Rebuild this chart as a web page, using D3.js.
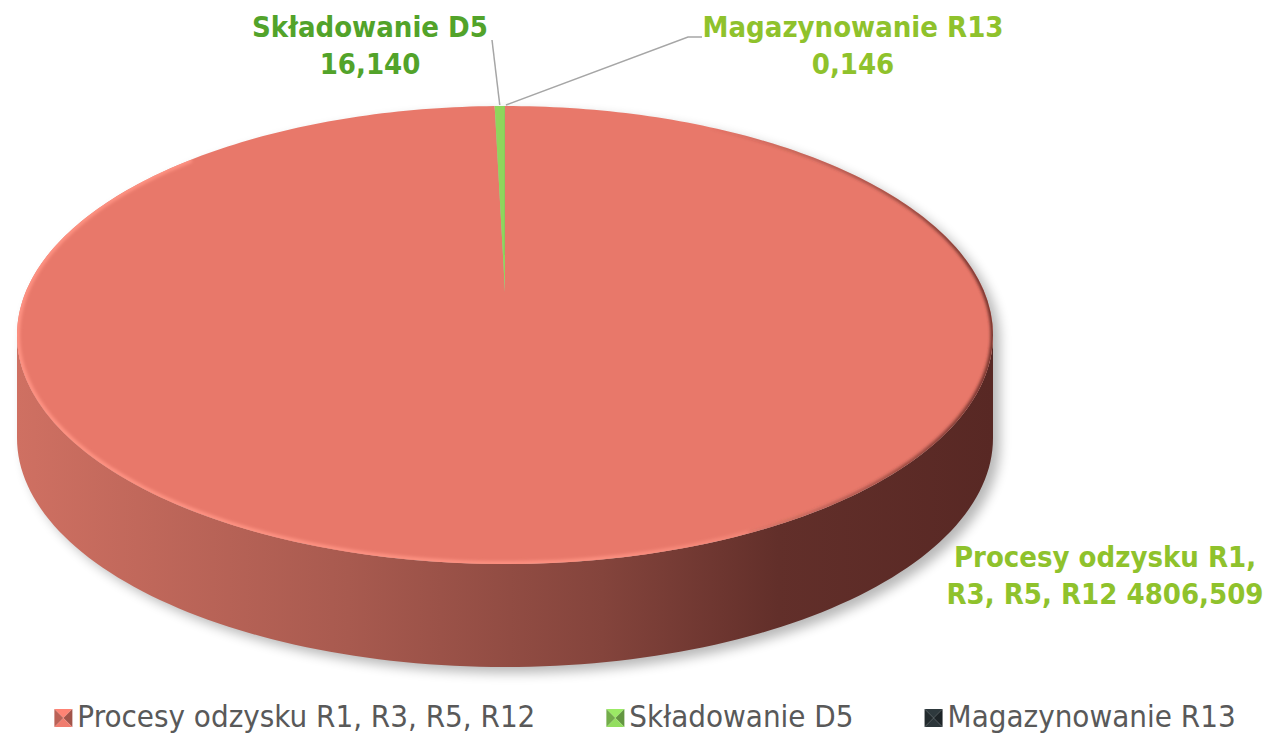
<!DOCTYPE html>
<html>
<head>
<meta charset="utf-8">
<script src="https://cdn.jsdelivr.net/npm/d3@7"></script>
<style>
  html, body { margin: 0; padding: 0; background: #fff; }
  svg { display: block; }
</style>
</head>
<body>
<div id="chart"></div>
<script>
// dane
const categories = ["Procesy odzysku R1, R3, R5, R12", "Składowanie D5", "Magazynowanie R13"];
const values = [4806.509, 16.140, 0.146];
const valueLabels = ["4806,509", "16,140", "0,146"];
const topColors = ["#e8786a", "#8ed65c", "#2a3438"];
const labelColors = ["#8fc22c", "#52a32a", "#8fc22c"];

const W = 1276, H = 733;
const cx = 505, cy = 335, rx = 488, ry = 229, depth = 103;
const apexY = 292; // perspektywa: srodek tortu lezy wyzej niz srodek elipsy

const svg = d3.select("#chart").append("svg")
  .attr("width", W).attr("height", H);
const defs = svg.append("defs");

// punkt na obwodzie (kat jak w d3.pie: 0 = gora, zgodnie z zegarem)
const rim = (a, dy = 0) => [cx + rx * Math.sin(a), cy - ry * Math.cos(a) + dy];
const arcPts = (a0, a1, dy = 0, n = 120) =>
  d3.range(n + 1).map(i => rim(a0 + (a1 - a0) * i / n, dy));
const line = d3.line();

const pie = d3.pie().sort(null).value(d => d)(values);

// gradienty i filtry
const sideGrad = defs.append("linearGradient").attr("id", "sideGrad")
  .attr("gradientUnits", "userSpaceOnUse")
  .attr("x1", cx - rx).attr("x2", cx + rx).attr("y1", 0).attr("y2", 0);
[[0, "#cf7062"], [0.34, "#a85a4f"], [0.6, "#84443c"], [0.78, "#622f2a"], [1, "#582824"]]
  .forEach(([o, c]) => sideGrad.append("stop").attr("offset", o).attr("stop-color", c));

const hiGrad = defs.append("linearGradient").attr("id", "hiGrad")
  .attr("gradientUnits", "userSpaceOnUse")
  .attr("x1", cx - rx).attr("x2", cx + rx).attr("y1", 0).attr("y2", 0);
[[0, 0.95], [0.6, 0.85], [0.8, 0.3], [0.9, 0]]
  .forEach(([o, op]) => hiGrad.append("stop").attr("offset", o)
    .attr("stop-color", "#ff9383").attr("stop-opacity", op));

const dkGrad = defs.append("linearGradient").attr("id", "dkGrad")
  .attr("gradientUnits", "userSpaceOnUse")
  .attr("x1", cx - rx).attr("x2", cx + rx).attr("y1", 0).attr("y2", 0);
[[0.7, 0], [0.88, 0.5], [1, 0.95]]
  .forEach(([o, op]) => dkGrad.append("stop").attr("offset", o)
    .attr("stop-color", "#6a2e28").attr("stop-opacity", op));

defs.append("filter").attr("id", "blurS").attr("x", "-10%").attr("y", "-10%")
  .attr("width", "120%").attr("height", "130%")
  .append("feGaussianBlur").attr("stdDeviation", 6);
defs.append("filter").attr("id", "blurE")
  .append("feGaussianBlur").attr("stdDeviation", 1.6);

defs.append("clipPath").attr("id", "topClip")
  .append("ellipse").attr("cx", cx).attr("cy", cy).attr("rx", rx).attr("ry", ry);

// cien pod tortem
const silhouette = arcPts(-Math.PI / 2, Math.PI / 2, 0)
  .concat(arcPts(Math.PI / 2, 3 * Math.PI / 2, depth));
svg.append("path")
  .attr("d", line(silhouette) + "Z")
  .attr("transform", "translate(7,6)")
  .attr("fill", "#000").attr("opacity", 0.28)
  .attr("filter", "url(#blurS)");

const g = svg.append("g");

// sciana boczna (widoczna przednia polowa)
pie.forEach(d => {
  const a0 = Math.max(d.startAngle, Math.PI / 2);
  const a1 = Math.min(d.endAngle, 3 * Math.PI / 2);
  if (a1 <= a0) return;
  const pts = arcPts(a0, a1, 0).concat(arcPts(a1, a0, depth));
  g.append("path").attr("d", line(pts) + "Z")
    .attr("fill", d.index === 0 ? "url(#sideGrad)" : d3.color(topColors[d.index]).darker(1.2));
});

// gorna powierzchnia
pie.forEach(d => {
  const n = Math.max(2, Math.ceil((d.endAngle - d.startAngle) * 60));
  const pts = [[cx, apexY]].concat(arcPts(d.startAngle, d.endAngle, 0, n));
  g.append("path").attr("class", "slice")
    .attr("d", line(pts) + "Z")
    .attr("fill", topColors[d.index]);
});

// faza na krawedzi
const rimG = g.append("g").attr("clip-path", "url(#topClip)");
rimG.append("path")
  .attr("d", line(arcPts(95 * Math.PI / 180, 320 * Math.PI / 180)))
  .attr("fill", "none").attr("stroke", "url(#hiGrad)").attr("stroke-width", 6)
  .attr("filter", "url(#blurE)");
rimG.append("path")
  .attr("d", line(arcPts(25 * Math.PI / 180, 150 * Math.PI / 180)))
  .attr("fill", "none").attr("stroke", "url(#dkGrad)").attr("stroke-width", 5)
  .attr("filter", "url(#blurE)");

// etykiety danych
const labelPos = [
  { x: 1105, y: 567, lines: [categories[0].replace(", R3, R5, R12", ","), "R3, R5, R12 " + valueLabels[0]] },
  { x: 370, y: 37, lines: [categories[1], valueLabels[1]], anchor: [492, 40] },
  { x: 853, y: 37, lines: [categories[2], valueLabels[2]], anchor: [702, 37], elbow: 688 }
];

pie.forEach(d => {
  const L = labelPos[d.index];
  if (L.anchor) {
    const p = rim((d.startAngle + d.endAngle) / 2 - (d.index === 2 ? 2 * Math.PI : 0));
    const pts = [[p[0] + (d.index === 2 ? 1 : 0), p[1] - 1]];
    if (L.elbow) pts.push([L.elbow, L.anchor[1]]);
    pts.push(L.anchor);
    svg.append("path").attr("d", line(pts))
      .attr("fill", "none").attr("stroke", "#a6a6a6").attr("stroke-width", 1.5);
  }
  const t = svg.append("text")
    .attr("text-anchor", "middle")
    .attr("font-family", "'DejaVu Sans Condensed', 'DejaVu Sans', sans-serif")
    .attr("font-weight", "bold")
    .attr("font-size", 29)
    .attr("fill", labelColors[d.index]);
  L.lines.forEach((s, i) => t.append("tspan").attr("x", L.x).attr("y", L.y + i * 37).text(s));
});

// legenda
const legend = svg.append("g");
const markerSize = 18, gapMT = 5, gapItem = 71;
const items = legend.selectAll("g.item").data(categories).join("g").attr("class", "item");
items.append("text")
  .attr("x", markerSize + gapMT).attr("y", 727)
  .attr("font-family", "'DejaVu Sans Condensed', 'DejaVu Sans', sans-serif")
  .attr("font-size", 31).attr("fill", "#595959")
  .text(d => d);

const shade = (c, k) => k >= 0 ? d3.color(c).brighter(k).formatHex() : d3.color(c).darker(-k).formatHex();
items.each(function (d, i) {
  const s = markerSize, y0 = 709, c = topColors[i];
  const m = d3.select(this);
  const tris = [
    [[0, 0], [s, 0], [s / 2, s / 2], shade(c, 0.25)],
    [[s, 0], [s, s], [s / 2, s / 2], shade(c, -1.0)],
    [[s, s], [0, s], [s / 2, s / 2], shade(c, 0.1)],
    [[0, s], [0, 0], [s / 2, s / 2], shade(c, -0.6)]
  ];
  tris.forEach(tr => m.append("path")
    .attr("d", line(tr.slice(0, 3).map(p => [p[0], p[1] + y0])) + "Z")
    .attr("fill", tr[3]));
});

let xs = 0;
const widths = [];
items.each(function () {
  const w = markerSize + gapMT + d3.select(this).select("text").node().getComputedTextLength();
  widths.push(w);
});
const total = d3.sum(widths) + gapItem * (widths.length - 1);
let x0 = 645 - total / 2;
items.attr("transform", (d, i) => {
  const tx = x0;
  x0 += widths[i] + gapItem;
  return `translate(${tx},0)`;
});
</script>
</body>
</html>
